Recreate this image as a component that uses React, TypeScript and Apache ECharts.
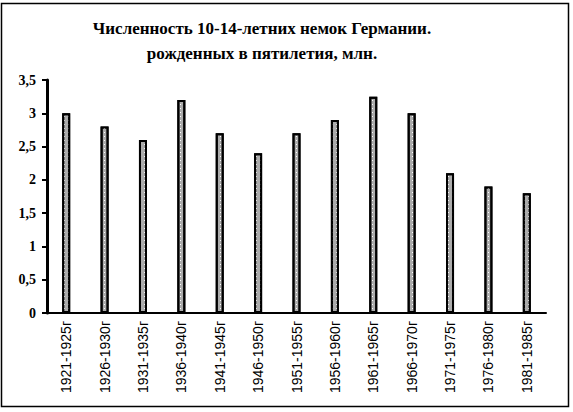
import React, { useEffect, useRef } from 'react';
import * as echarts from 'echarts';

const categories = [
  '1921-1925г', '1926-1930г', '1931-1935г', '1936-1940г', '1941-1945г',
  '1946-1950г', '1951-1955г', '1956-1960г', '1961-1965г', '1966-1970г',
  '1971-1975г', '1976-1980г', '1981-1985г',
];
const values = [3.0, 2.8, 2.6, 3.2, 2.7, 2.4, 2.7, 2.9, 3.25, 3.0, 2.1, 1.9, 1.8];
const titleLine1 = 'Численность 10-14-летних немок Германии.';
const titleLine2 = 'рожденных в пятилетия, млн.';
const yMin = 0;
const yMax = 3.5;
const yStep = 0.5;

export default function App() {
  const ref = useRef<HTMLDivElement>(null);
  useEffect(() => {
    document.body.style.margin = '0';
    const chart = echarts.init(ref.current!, null, { renderer: 'svg' });
    const titleStyle = {
      fontFamily: 'Liberation Serif',
      fontWeight: 'bold',
      fontSize: 17,
      fill: '#000',
      textAlign: 'center',
      textVerticalAlign: 'middle',
    };
    chart.setOption({
      animation: false,
      backgroundColor: '#fff',
      grid: { left: 47, right: 27, top: 80, bottom: 99 },
      xAxis: {
        type: 'category',
        data: categories,
        axisLine: { lineStyle: { color: '#000', width: 2 } },
        axisTick: { show: false },
        axisLabel: {
          rotate: 90,
          margin: 8,
          interval: 0,
          fontFamily: 'Liberation Sans',
          fontSize: 14,
          color: '#000',
        },
      },
      yAxis: {
        type: 'value',
        min: yMin,
        max: yMax,
        interval: yStep,
        splitLine: { show: false },
        axisLine: { show: true, lineStyle: { color: '#000', width: 3 } },
        axisTick: { show: true, length: 5, lineStyle: { color: '#000', width: 2 } },
        axisLabel: {
          formatter: (v: number) => String(v).replace('.', ','),
          fontFamily: 'Liberation Serif',
          fontWeight: 'bold',
          fontSize: 14,
          color: '#000',
          margin: 11,
        },
      },
      series: [
        {
          type: 'bar',
          data: values,
          barWidth: 8,
          itemStyle: {
            color: '#acacac',
            borderColor: '#000',
            borderWidth: 2,
            decal: {
              symbol: 'rect',
              symbolSize: 1,
              color: '#ffffff',
              dashArrayX: [1, 3],
              dashArrayY: [1, 3],
              rotation: 0,
            },
          },
        },
      ],
      graphic: [
        {
          type: 'text',
          x: 262,
          y: 28,
          silent: true,
          style: { ...titleStyle, text: titleLine1 },
        },
        {
          type: 'text',
          x: 262,
          y: 53,
          silent: true,
          style: { ...titleStyle, text: titleLine2 },
        },
        {
          type: 'rect',
          silent: true,
          z: 100,
          shape: { x: 1.5, y: 3.5, width: 567, height: 403 },
          style: { fill: 'none', stroke: '#000', lineWidth: 1.5 },
        },
      ],
    });
    return () => chart.dispose();
  }, []);
  return <div ref={ref} style={{ width: 573, height: 412 }} />;
}
